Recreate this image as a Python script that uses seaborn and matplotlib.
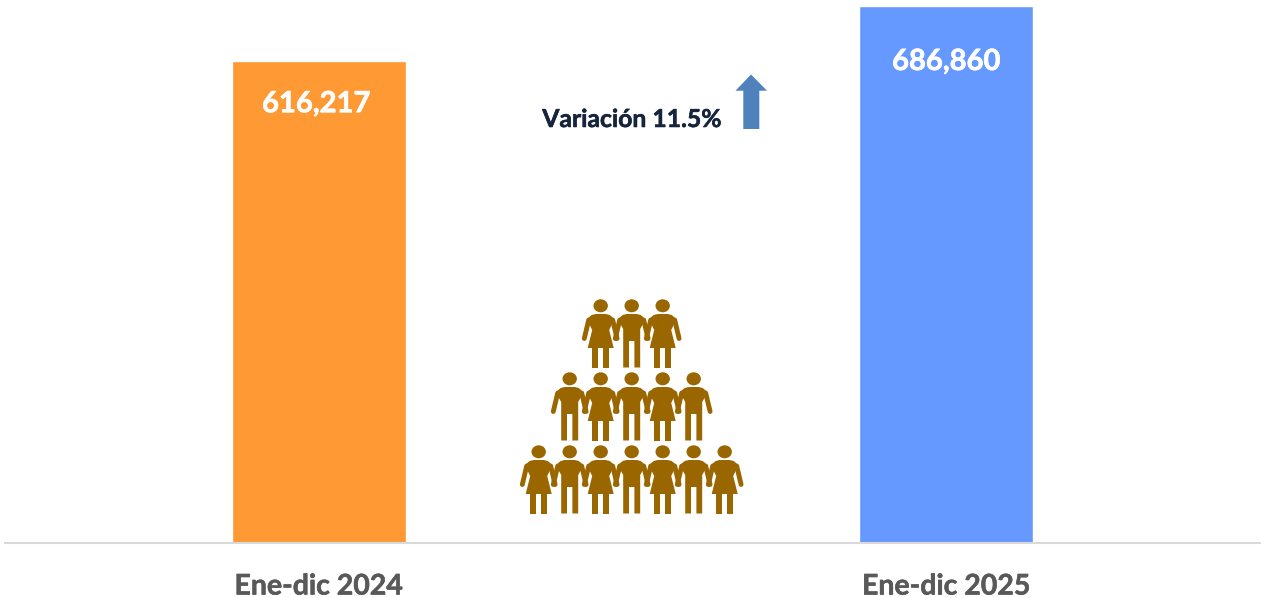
import matplotlib
matplotlib.use("Agg")
import matplotlib.pyplot as plt
import matplotlib.patheffects as pe
from matplotlib.patches import Polygon, Ellipse, Rectangle
import pandas as pd
import seaborn as sns

# Data
periods = ["Ene-dic 2024", "Ene-dic 2025"]
values = [616217, 686860]
value_labels = ["616,217", "686,860"]
bar_colors = ["#FF9933", "#6699FF"]
variation_label = "Variación 11.5%"
people_rows = ["FMF", "MFMFM", "FMFMFMF"]

sns.set_theme(style="white")
plt.rcParams["font.family"] = ["Lato", "DejaVu Sans"]

W, H = 1265, 598
fig = plt.figure(figsize=(W / 100, H / 100), dpi=100, facecolor="white")
ax = fig.add_axes([5 / W, (H - 543) / H, 1255 / W, 543 / H])

df = pd.DataFrame({"period": periods, "value": values})
sns.barplot(data=df, x="period", y="value", hue="period", palette=bar_colors,
            legend=False, width=0.2775, saturation=1, ax=ax)
ax.set_xlim(-0.5, 1.5)
ax.set_ylim(0, 543 * 1279)
ax.set_xlabel("")
ax.set_ylabel("")
ax.set_yticks([])
ax.tick_params(axis="x", length=0, pad=22, labelsize=20.5, labelcolor="#595959")
for t in ax.get_xticklabels():
    t.set_fontweight("bold")
    t.set_path_effects([pe.withStroke(linewidth=0.4, foreground="#595959")])
for s in ["top", "left", "right"]:
    ax.spines[s].set_visible(False)
ax.spines["bottom"].set_color("#D9D9D9")
ax.spines["bottom"].set_linewidth(1.5)

for i, (v, lab, off, dx) in enumerate(zip(values, value_labels, [43, 56], [-2.5, 0])):
    ax.annotate(lab, xy=(i, v), xytext=(dx * 0.72, -off * 0.72), textcoords="offset points",
                ha="center", va="center", color="white", fontsize=21, fontweight="bold",
                path_effects=[pe.withStroke(linewidth=0.5, foreground="white")])

# Overlay in pixel coordinates for the decorations
ov = fig.add_axes([0, 0, 1, 1], facecolor="none")
ov.set_xlim(0, W)
ov.set_ylim(H, 0)
ov.axis("off")

ov.text(632, 119.5, variation_label, ha="center", va="center",
        color="#16243C", fontsize=17.8, fontweight="bold",
        path_effects=[pe.withStroke(linewidth=0.4, foreground="#16243C")])

ov.add_patch(Polygon([(751, 74.5), (767, 90.7), (759.3, 90.7), (759.3, 129),
                      (743.3, 129), (743.3, 90.7), (735.5, 90.7)],
                     closed=True, fc="#4F81BD", ec="none"))

PC = "#996600"


def person(cx, top, kind):
    """cx, top in pixels; shape units are pixels relative to the centre and head top."""
    ov.add_patch(Ellipse((cx, top + 5.8), 14.4, 13, fc=PC, ec="none"))
    # arms
    for sgn in (-1, 1):
        ov.plot([cx + sgn * 12, cx + sgn * 16.4], [top + 20, top + 38.5],
                color=PC, lw=3.5, solid_capstyle="round")
    if kind == "F":
        body = [(-5, 14), (5, 14), (9, 15), (12, 17.5), (13, 21), (8.5, 30), (13, 48),
                (-13, 48), (-8.5, 30), (-13, 21), (-12, 17.5), (-9, 15)]
        body = [(cx + x, top + y) for x, y in body]
        ov.add_patch(Polygon(body, closed=True, fc=PC, ec="none"))
        for a in (-8.7, 2.4):
            ov.add_patch(Rectangle((cx + a, top + 48), 6.3, 19.5, fc=PC, ec="none"))
    else:
        body = [(-5, 14), (5, 14), (9, 15), (12, 17.5), (13, 21), (8.5, 29),
                (8.5, 67.5), (2.7, 67.5), (2.7, 41), (-2.7, 41), (-2.7, 67.5), (-8.5, 67.5),
                (-8.5, 29), (-13, 21), (-12, 17.5), (-9, 15)]
        body = [(cx + x, top + y) for x, y in body]
        ov.add_patch(Polygon(body, closed=True, fc=PC, ec="none"))


for r, row in enumerate(people_rows):
    n = len(row)
    for k, kind in enumerate(row):
        person(631.7 + (k - (n - 1) / 2) * 31, 300 + r * 73, kind)

fig.savefig("out.png", dpi=100, facecolor="white")
